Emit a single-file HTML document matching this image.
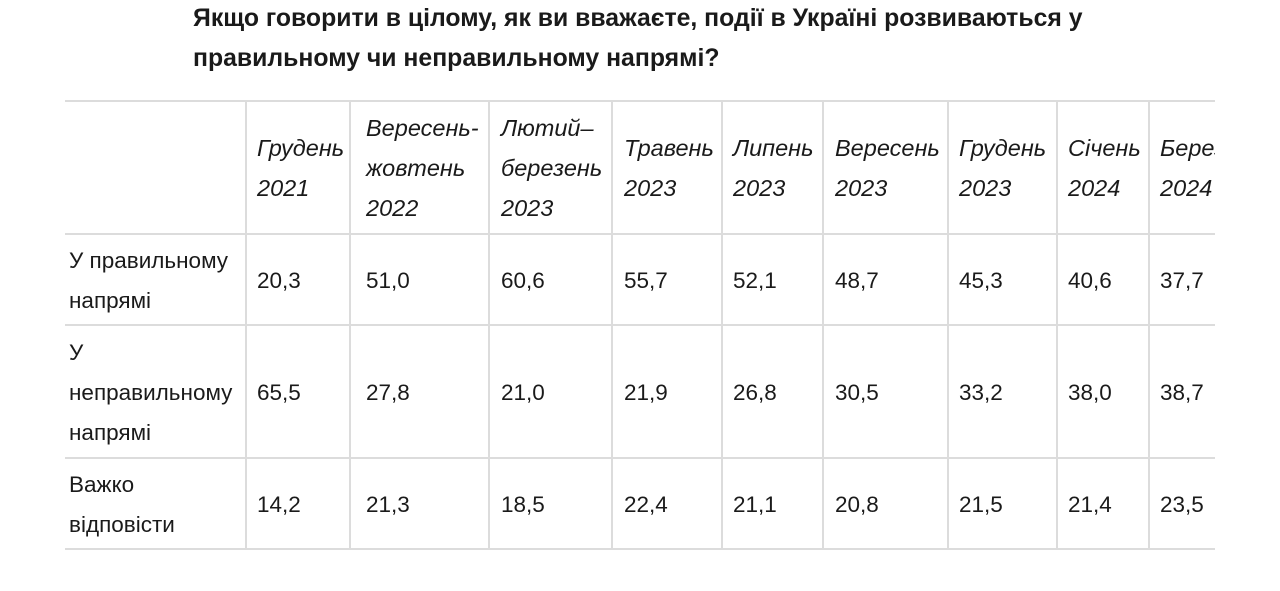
<!DOCTYPE html>
<html><head><meta charset="utf-8"><style>
body{margin:0;width:1280px;height:591px;background:#fff;position:relative;overflow:hidden;font-family:"Liberation Sans","Noto Sans CJK SC",sans-serif;color:#1a1a1a}
.t{position:absolute;left:193px;font-weight:bold;font-size:24.8px;line-height:40px;white-space:nowrap}
.wrap{position:absolute;left:0;top:0;width:1215px;height:591px;overflow:hidden}
.h{position:absolute;left:65px;width:1150px;height:2px;background:#dcdcdc}
.v{position:absolute;width:2px;background:#dcdcdc;top:101px;height:449px}
.c{position:absolute;font-size:22.5px;line-height:40px;white-space:nowrap}
.i{font-style:italic;font-size:23.5px}
</style></head><body>
<div class="t" style="top:-1px">Якщо говорити в цілому, як ви вважаєте, події в Україні розвиваються у</div>
<div class="t" style="top:39px">правильному чи неправильному напрямі?</div>
<div class="wrap">
<div class="h" style="top:100px"></div>
<div class="h" style="top:233px"></div>
<div class="h" style="top:324px"></div>
<div class="h" style="top:457px"></div>
<div class="h" style="top:548px"></div>
<div class="v" style="left:245px"></div>
<div class="v" style="left:349px"></div>
<div class="v" style="left:488px"></div>
<div class="v" style="left:611px"></div>
<div class="v" style="left:721px"></div>
<div class="v" style="left:822px"></div>
<div class="v" style="left:947px"></div>
<div class="v" style="left:1056px"></div>
<div class="v" style="left:1148px"></div>

<div class="c i" style="left:257px;top:128px">Грудень<br>2021</div>
<div class="c i" style="left:366px;top:108px">Вересень-<br>жовтень<br>2022</div>
<div class="c i" style="left:501px;top:108px">Лютий–<br>березень<br>2023</div>
<div class="c i" style="left:624px;top:128px">Травень<br>2023</div>
<div class="c i" style="left:733px;top:128px">Липень<br>2023</div>
<div class="c i" style="left:835px;top:128px">Вересень<br>2023</div>
<div class="c i" style="left:959px;top:128px">Грудень<br>2023</div>
<div class="c i" style="left:1068px;top:128px">Січень<br>2024</div>
<div class="c i" style="left:1160px;top:128px">Березень<br>2024</div>

<div class="c" style="left:69px;top:241px">У правильному<br>напрямі</div>
<div class="c" style="left:69px;top:333px">У<br>неправильному<br>напрямі</div>
<div class="c" style="left:69px;top:465px">Важко<br>відповісти</div>

<div class="c" style="left:257px;top:261px">20,3</div>
<div class="c" style="left:366px;top:261px">51,0</div>
<div class="c" style="left:501px;top:261px">60,6</div>
<div class="c" style="left:624px;top:261px">55,7</div>
<div class="c" style="left:733px;top:261px">52,1</div>
<div class="c" style="left:835px;top:261px">48,7</div>
<div class="c" style="left:959px;top:261px">45,3</div>
<div class="c" style="left:1068px;top:261px">40,6</div>
<div class="c" style="left:1160px;top:261px">37,7</div>

<div class="c" style="left:257px;top:373px">65,5</div>
<div class="c" style="left:366px;top:373px">27,8</div>
<div class="c" style="left:501px;top:373px">21,0</div>
<div class="c" style="left:624px;top:373px">21,9</div>
<div class="c" style="left:733px;top:373px">26,8</div>
<div class="c" style="left:835px;top:373px">30,5</div>
<div class="c" style="left:959px;top:373px">33,2</div>
<div class="c" style="left:1068px;top:373px">38,0</div>
<div class="c" style="left:1160px;top:373px">38,7</div>

<div class="c" style="left:257px;top:485px">14,2</div>
<div class="c" style="left:366px;top:485px">21,3</div>
<div class="c" style="left:501px;top:485px">18,5</div>
<div class="c" style="left:624px;top:485px">22,4</div>
<div class="c" style="left:733px;top:485px">21,1</div>
<div class="c" style="left:835px;top:485px">20,8</div>
<div class="c" style="left:959px;top:485px">21,5</div>
<div class="c" style="left:1068px;top:485px">21,4</div>
<div class="c" style="left:1160px;top:485px">23,5</div>
</div>
</body></html>
